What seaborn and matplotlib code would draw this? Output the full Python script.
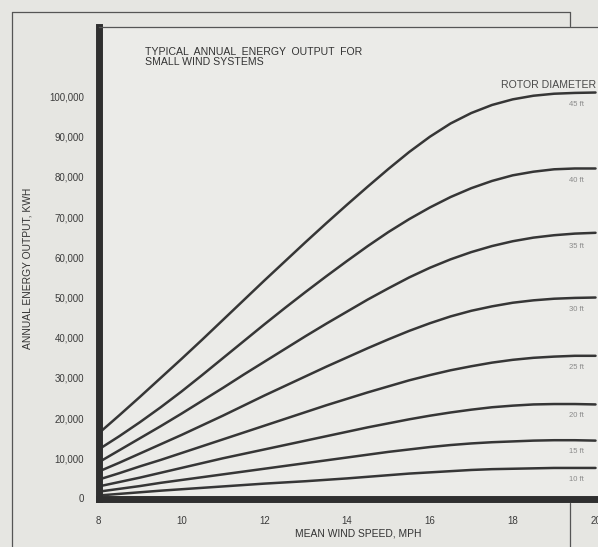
""" Typical annual energy output for small wind systems, redrawn from a scanned page. """
import pandas as pd
import matplotlib
matplotlib.use('Agg')
import matplotlib.pyplot as plt
from matplotlib.lines import Line2D
import seaborn as sns

# Mean wind speed, mph
wind_speed = [8, 8.5, 9, 9.5, 10, 10.5, 11, 11.5, 12, 12.5, 13, 13.5, 14,
              14.5, 15, 15.5, 16, 16.5, 17, 17.5, 18, 18.5, 19, 19.5, 20]

# Annual energy output, kWh, one list per rotor diameter
out_45ft = [16200, 20700, 25300, 30000, 34700, 39500, 44400, 49300, 54200, 59000, 63800, 68500, 73100,
            77600, 82000, 86200, 90000, 93300, 95900, 97900, 99300, 100200, 100700, 100900, 101000]
out_40ft = [12200, 15500, 19000, 22700, 26600, 30700, 34900, 39100, 43300, 47400, 51400, 55300, 59100,
            62800, 66300, 69500, 72400, 75000, 77200, 79000, 80400, 81300, 81900, 82100, 82100]
out_35ft = [9000, 12000, 15000, 18000, 21100, 24300, 27500, 30800, 34000, 37200, 40400, 43500, 46500,
            49500, 52300, 55000, 57400, 59500, 61300, 62800, 64000, 64900, 65500, 65900, 66100]
out_30ft = [6700, 8900, 11200, 13500, 15800, 18200, 20600, 23100, 25600, 28000, 30400, 32800, 35100,
            37400, 39600, 41700, 43600, 45300, 46700, 47800, 48700, 49300, 49700, 49900, 50000]
out_25ft = [4700, 6300, 8000, 9600, 11300, 13000, 14700, 16400, 18100, 19800, 21500, 23200, 24800,
            26400, 27900, 29400, 30700, 31900, 32900, 33800, 34500, 35000, 35300, 35500, 35500]
out_20ft = [3000, 4100, 5200, 6400, 7600, 8800, 10000, 11100, 12200, 13300, 14400, 15500, 16600,
            17700, 18700, 19700, 20600, 21400, 22100, 22700, 23100, 23400, 23500, 23500, 23400]
out_15ft = [1700, 2400, 3100, 3900, 4600, 5300, 6000, 6700, 7400, 8100, 8800, 9500, 10200,
            10900, 11600, 12200, 12800, 13300, 13700, 14000, 14200, 14400, 14500, 14500, 14400]
out_10ft = [750, 1150, 1550, 1950, 2300, 2650, 3000, 3350, 3700, 4000, 4300, 4650, 5000,
            5400, 5800, 6200, 6500, 6800, 7100, 7300, 7400, 7500, 7600, 7600, 7600]

diameters = ['45 ft', '40 ft', '35 ft', '30 ft', '25 ft', '20 ft', '15 ft', '10 ft']
series = [out_45ft, out_40ft, out_35ft, out_30ft, out_25ft, out_20ft, out_15ft, out_10ft]

y_ticks = [0, 10000, 20000, 30000, 40000, 50000, 60000, 70000, 80000, 90000, 100000]
x_ticks = [8, 10, 12, 14, 16, 18, 20]

sns.set_style('white')
plt.rcParams['font.family'] = ['Liberation Sans', 'DejaVu Sans']

ink = '#363636'
paper = '#e6e6e2'

# long-form table for seaborn
df = pd.concat([pd.DataFrame({'speed': wind_speed, 'kwh': vals, 'diameter': d})
                for d, vals in zip(diameters, series)], ignore_index=True)

fig = plt.figure(figsize=(5.98, 5.47), dpi=100, facecolor=paper)
ax = fig.add_axes([98.6 / 598, 48.5 / 547, 499.4 / 598, 471.5 / 547])
ax.set_facecolor('#ebebe8')

sns.lineplot(data=df, x='speed', y='kwh', hue='diameter', hue_order=diameters,
             palette=[ink] * len(diameters), linewidth=1.8, legend=False, ax=ax)

ax.set_xlim(8, 20.06)
ax.set_ylim(0, 117300)
ax.set_xticks(x_ticks)
ax.set_xticklabels([str(v) for v in x_ticks])
ax.set_yticks(y_ticks)
ax.set_yticklabels([f'{v:,}' for v in y_ticks])
ax.tick_params(axis='both', direction='out', length=7.5, width=1.3, color=ink,
               labelsize=7, labelcolor='#3c3c3c')
ax.tick_params(axis='x', pad=5)
ax.tick_params(axis='y', pad=3)
ax.set_xlabel('')
ax.set_ylabel('')

# thick left / bottom edges, thin paper edge on top
for side in ('left', 'bottom'):
    ax.spines[side].set_linewidth(5)
    ax.spines[side].set_color('#2f2f2f')
ax.spines['top'].set_linewidth(0.9)
ax.spines['top'].set_color('#555555')
ax.spines['right'].set_visible(False)

# chart title on the paper
ax.text(0.093, 0.958, 'TYPICAL  ANNUAL  ENERGY  OUTPUT  FOR\nSMALL WIND SYSTEMS',
        transform=ax.transAxes, ha='left', va='top', fontsize=7.6,
        color='#333333', linespacing=1.05)

ax.text(20.02, 102900, 'ROTOR DIAMETER', ha='right', va='center',
        fontsize=7.6, color='#4a4a4a')

# faint diameter labels under each curve end
i19 = wind_speed.index(19)
for d, vals in zip(diameters, series):
    ax.annotate(d, xy=(19.35, vals[i19]), xytext=(0, -8), textcoords='offset points',
                ha='left', va='center', fontsize=5.5, color='#8a8a8a')

fig.text(358 / 598, 1 - 533 / 547, 'MEAN WIND SPEED, MPH', ha='center', va='center',
         fontsize=7.4, color='#333333')
fig.text(28 / 598, 1 - 268 / 547, 'ANNUAL ENERGY OUTPUT, KWH', ha='center', va='center',
         rotation=90, fontsize=7.4, color='#333333')

# thin outer frame of the page behind the chart
frame = dict(color='#555555', linewidth=0.9)
fig.add_artist(Line2D([12 / 598, 12 / 598], [0, 1 - 12 / 547], **frame))
fig.add_artist(Line2D([12 / 598, 570 / 598], [1 - 12 / 547, 1 - 12 / 547], **frame))
fig.add_artist(Line2D([570 / 598, 570 / 598], [1 - 12 / 547, 1 - 26 / 547], **frame))
fig.add_artist(Line2D([570 / 598, 570 / 598], [1 - 503 / 547, 0], **frame))

fig.savefig('out.png', dpi=100, facecolor=paper)
